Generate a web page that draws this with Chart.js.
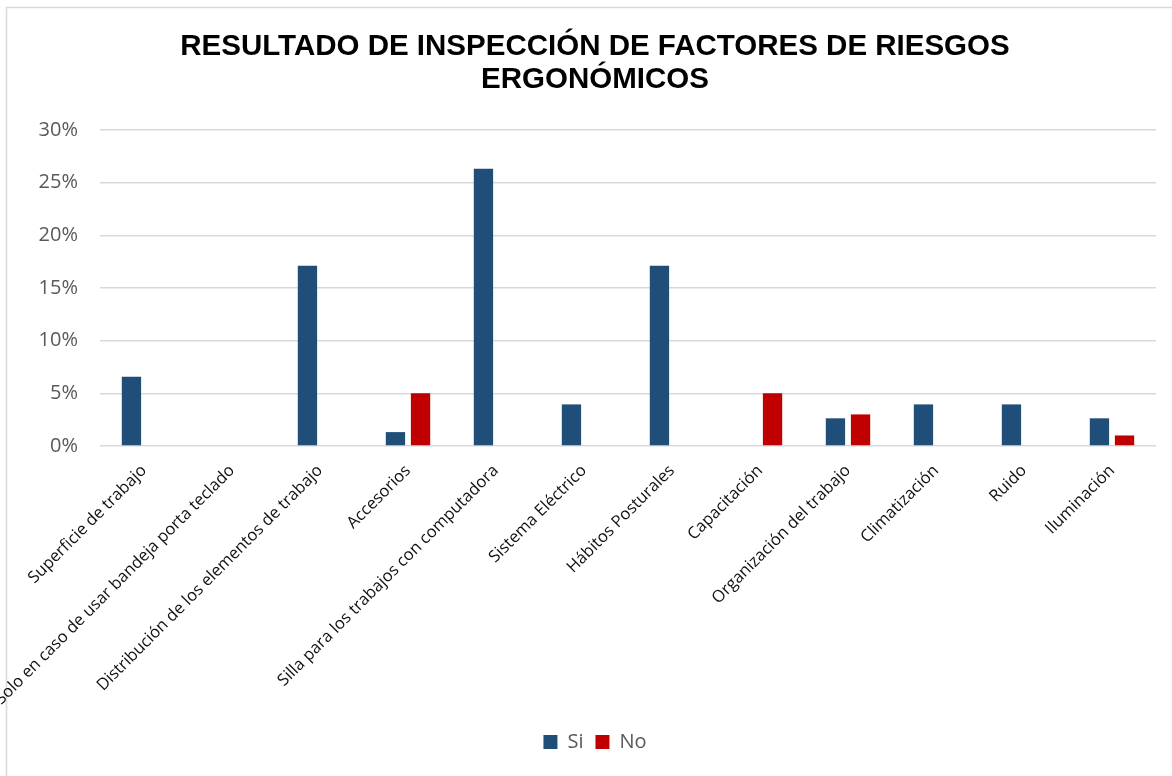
<!DOCTYPE html>
<html lang="es">
<head>
<meta charset="utf-8">
<title>Resultado de inspección de factores de riesgos ergonómicos</title>
<script src="https://cdn.jsdelivr.net/npm/chart.js@4.4.1/dist/chart.umd.min.js"></script>
<style>
  html, body { margin: 0; padding: 0; background: #fff; }
  #wrap { position: relative; width: 1172px; height: 776px; }
</style>
</head>
<body>
<div id="wrap"><canvas id="riesgosChart"></canvas></div>
<script>
// factores evaluados y porcentaje de respuestas
const factores = [
  'Superficie de trabajo',
  'Solo en caso de usar bandeja porta teclado',
  'Distribución de los elementos de trabajo',
  'Accesorios',
  'Silla para los trabajos con computadora',
  'Sistema Eléctrico',
  'Hábitos Posturales',
  'Capacitación',
  'Organización del trabajo',
  'Climatización',
  'Ruido',
  'Iluminación'
];
const valoresSi = [6.58, 0, 17.11, 1.32, 26.32, 3.95, 17.11, 0, 2.63, 3.95, 3.95, 2.63];
const valoresNo = [0, 0, 0, 5, 0, 0, 0, 5, 3, 0, 0, 1];
const ticksPct = [0, 5, 10, 15, 20, 25, 30];

const titulo = ['RESULTADO DE INSPECCIÓN DE FACTORES DE RIESGOS', 'ERGONÓMICOS'];

// fondo blanco y marco gris del gráfico
const marco = {
  id: 'marco',
  beforeDraw(chart) {
    const c = chart.ctx;
    c.save();
    c.fillStyle = '#ffffff';
    c.fillRect(0, 0, chart.width, chart.height);
    c.strokeStyle = '#d9d9d9';
    c.lineWidth = 1.5;
    c.beginPath();
    c.moveTo(6.5, chart.height);
    c.lineTo(6.5, 7.5);
    c.lineTo(chart.width, 7.5);
    c.stroke();
    c.restore();
  }
};

const ctx = document.getElementById('riesgosChart').getContext('2d');
new Chart(ctx, {
  type: 'bar',
  data: {
    labels: factores,
    datasets: [
      { label: 'Si', data: valoresSi, backgroundColor: '#1f4e79' },
      { label: 'No', data: valoresNo, backgroundColor: '#c00000' }
    ]
  },
  options: {
    responsive: true,
    maintainAspectRatio: false,
    animation: false,
    datasets: { bar: { categoryPercentage: 0.57, barPercentage: 0.77 } },
    layout: { padding: { left: 34, right: 16, top: 0, bottom: 14 } },
    plugins: {
      title: {
        display: true,
        text: titulo,
        color: '#000000',
        font: { family: '"Liberation Sans", Arial, sans-serif', size: 29.5, weight: 'bold', lineHeight: 1.12 },
        padding: { top: 30, bottom: 34 }
      },
      legend: {
        position: 'bottom',
        labels: {
          boxWidth: 14,
          boxHeight: 14,
          padding: 12,
          color: '#595959',
          font: { family: '"Open Sans", sans-serif', size: 20 }
        }
      },
      tooltip: { enabled: false }
    },
    scales: {
      x: {
        grid: { display: false },
        border: { display: false },
        ticks: {
          autoSkip: false,
          minRotation: 45,
          maxRotation: 45,
          padding: 7,
          color: '#111111',
          font: { family: '"Open Sans", sans-serif', size: 16.5 }
        },
        afterFit(scale) { scale.height = 274; }
      },
      y: {
        min: ticksPct[0],
        max: ticksPct[ticksPct.length - 1],
        grid: { color: '#d9d9d9', lineWidth: 1.5, drawTicks: false },
        border: { display: false },
        ticks: {
          stepSize: ticksPct[1] - ticksPct[0],
          padding: 22,
          color: '#595959',
          font: { family: '"Open Sans", sans-serif', size: 20 },
          callback: (v) => v + '%'
        },
        afterFit(scale) { scale.width = 66; }
      }
    }
  },
  plugins: [marco]
});
</script>
</body>
</html>
